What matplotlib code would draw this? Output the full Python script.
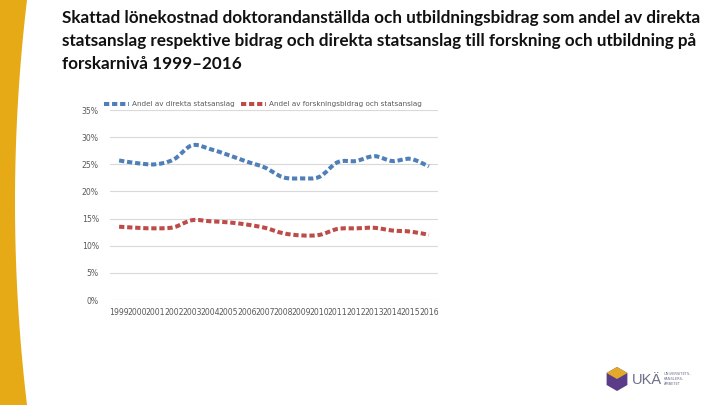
import numpy as np
import matplotlib
matplotlib.use("Agg")
import matplotlib.pyplot as plt
from matplotlib.path import Path
from matplotlib.patches import PathPatch, Polygon
from matplotlib.lines import Line2D
import matplotlib.ticker as mticker

# ── Data ─────────────────────────────────────────────────────────────────────
years = ["1999", "2000", "2001", "2002", "2003", "2004", "2005", "2006", "2007",
         "2008", "2009", "2010", "2011", "2012", "2013", "2014", "2015", "2016"]
direkta = [25.7, 25.2, 25.0, 25.9, 28.5, 27.8, 26.7, 25.5, 24.4,
           22.6, 22.4, 22.7, 25.4, 25.6, 26.5, 25.6, 26.0, 24.6]
forskning = [13.5, 13.3, 13.2, 13.4, 14.7, 14.5, 14.3, 13.9, 13.3,
             12.3, 11.9, 12.0, 13.1, 13.2, 13.3, 12.8, 12.6, 12.0]
series_labels = ["Andel av direkta statsanslag",
                 "Andel av forskningsbidrag och statsanslag"]
colors = ["#4F7FB8", "#BE4B48"]

title = ("Skattad lönekostnad doktorandanställda och utbildningsbidrag som andel av direkta\n"
         "statsanslag respektive bidrag och direkta statsanslag till forskning och utbildning på\n"
         "forskarnivå 1999–2016")


def smooth_path(xs, ys):
    # Excel-style smoothed line: cubic Bezier segments (Catmull-Rom control points)
    pts = np.column_stack([xs, ys])
    verts = [pts[0]]
    codes = [Path.MOVETO]
    n = len(pts)
    for i in range(n - 1):
        p0 = pts[max(i - 1, 0)]
        p1 = pts[i]
        p2 = pts[i + 1]
        p3 = pts[min(i + 2, n - 1)]
        c1 = p1 + (p2 - p0) / 6.0
        c2 = p2 - (p3 - p1) / 6.0
        verts += [c1, c2, p2]
        codes += [Path.CURVE4] * 3
    return Path(verts, codes)


# ── Figure ───────────────────────────────────────────────────────────────────
fig = plt.figure(figsize=(7.2, 4.05), dpi=100)
fig.patch.set_facecolor("white")

# yellow band on the left edge
band_y = np.linspace(0, 1, 60)
band_x = (15 + 12 * (2 * band_y - 1) ** 2) / 720
band = Polygon(np.column_stack([np.r_[0, band_x, 0], np.r_[0, band_y, 1]]),
               closed=True, transform=fig.transFigure, facecolor="#E6AA17",
               edgecolor="none")
fig.patches.append(band)

fig.text(62 / 720, 1 - 10 / 405, title, ha="left", va="top", fontsize=12.3,
         fontweight="bold", family="Lato", linespacing=1.55, color="#111111")

ax = fig.add_axes([110 / 720, 1 - 300 / 405, 328 / 720, 190 / 405])
x = np.arange(len(years))
for vals, col in zip([direkta, forskning], colors):
    y = np.array(vals) / 100
    patch = PathPatch(smooth_path(x, y), fill=False, edgecolor=col, lw=2.9,
                      linestyle=(0, (1.3, 0.7)), capstyle="butt")
    ax.add_patch(patch)

ax.set_xlim(-0.5, len(years) - 0.5)
ax.set_ylim(0, 0.35)
ax.set_yticks(np.arange(0, 0.351, 0.05))
ax.yaxis.set_major_formatter(mticker.PercentFormatter(1.0, decimals=0))
ax.set_xticks(x)
ax.set_xticklabels(years)
ax.grid(axis="y", color="#D9D9D9", lw=0.8)
ax.set_axisbelow(True)
for s in ax.spines.values():
    s.set_visible(False)
ax.tick_params(length=0, labelsize=5.6, colors="#595959", pad=6)
ax.tick_params(axis="y", pad=8)

handles = [Line2D([], [], color=c, lw=2.9, linestyle=(0, (1.3, 0.7))) for c in colors]
fig.legend(handles, series_labels, loc="center left",
           bbox_to_anchor=(98 / 720, 1 - 104 / 405), ncol=2, frameon=False,
           fontsize=5.2, handlelength=3.4, handletextpad=0.4, columnspacing=0.9,
           labelcolor="#595959")

# UKÄ logo (simplified)
cx, cy, r = 617, 379, 12
ang = np.deg2rad(np.arange(6) * 60 + 30)
hexpts = np.column_stack([(cx + r * np.cos(ang)) / 720, 1 - (cy + r * np.sin(ang)) / 405])
fig.patches.append(Polygon(hexpts, closed=True, transform=fig.transFigure,
                           facecolor="#5B3C88", edgecolor="none"))
top = np.array([[cx, cy - r], [cx + r * 0.87, cy - r / 2], [cx, cy], [cx - r * 0.87, cy - r / 2]])
fig.patches.append(Polygon(np.column_stack([top[:, 0] / 720, 1 - top[:, 1] / 405]),
                           closed=True, transform=fig.transFigure,
                           facecolor="#E3A92B", edgecolor="none"))
fig.text(632 / 720, 1 - 380 / 405, "UKÄ", ha="left", va="center", fontsize=10.5,
         color="#6E6F8A", family="Liberation Sans")
fig.text(664 / 720, 1 - 379 / 405, "UNIVERSITETS-\nKANSLERS-\nÄMBETET", ha="left",
         va="center", fontsize=2.6, color="#6E6F8A", linespacing=1.3)

fig.savefig("out.png", dpi=100)
